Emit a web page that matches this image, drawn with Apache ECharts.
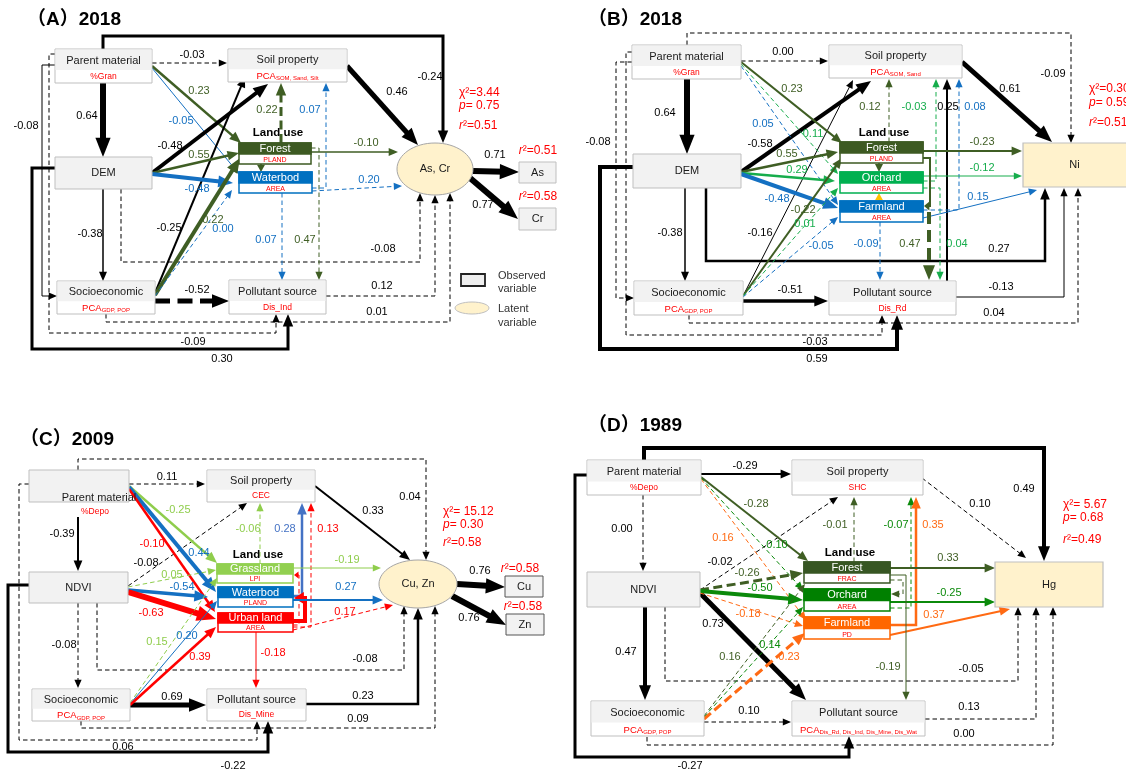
<!DOCTYPE html>
<html>
<head>
<meta charset="utf-8">
<title>Structural equation models of soil heavy metals</title>
<script src="https://cdn.jsdelivr.net/npm/echarts@6/dist/echarts.min.js"></script>
<style>
html,body{margin:0;padding:0;background:#ffffff}
#main{width:1126px;height:769px}
</style>
</head>
<body>
<div id="main"></div>
<script>
// ---------------- content ----------------
const panelTitles = ['（A）2018', '（B）2018', '（C）2009', '（D）1989'];

// variable names and their measured indicators ("main|subscript")
const namesA = ['Parent material', 'Soil property', 'DEM', 'Socioeconomic', 'Pollutant source', 'Forest', 'Waterbod', 'As, Cr', 'As', 'Cr'];
const indicatorsA = ['%Gran', 'PCA|SOM, Sand, Silt', '', 'PCA|GDP, POP', 'Dis_Ind', 'PLAND', 'AREA', '', '', ''];
const namesB = ['Parent material', 'Soil property', 'DEM', 'Socioeconomic', 'Pollutant source', 'Forest', 'Orchard', 'Farmland', 'Ni'];
const indicatorsB = ['%Gran', 'PCA|SOM, Sand', '', 'PCA|GDP, POP', 'Dis_Rd', 'PLAND', 'AREA', 'AREA', ''];
const namesC = ['Parent material', 'Soil property', 'NDVI', 'Socioeconomic', 'Pollutant source', 'Grassland', 'Waterbod', 'Urban land', 'Cu, Zn', 'Cu', 'Zn'];
const indicatorsC = ['%Depo', 'CEC', '', 'PCA|GDP, POP', 'Dis_Mine', 'LPI', 'PLAND', 'AREA', '', '', ''];
const namesD = ['Parent material', 'Soil property', 'NDVI', 'Socioeconomic', 'Pollutant source', 'Forest', 'Orchard', 'Farmland', 'Hg'];
const indicatorsD = ['%Depo', 'SHC', '', 'PCA|GDP, POP', 'PCA|Dis_Rd, Dis_Ind, Dis_Mine, Dis_Wat', 'FRAC', 'AREA', 'PD', ''];

// standardised path coefficients (null = unlabelled link)
const coefA = [-0.03, 0.64, -0.24, 0.23, -0.05, -0.08, -0.09, 0.30, 0.01, 0.12, -0.08, -0.48, -0.25, 0.55, -0.48, -0.22, 0.00, null, 0.22, 0.07, -0.10, 0.20, 0.07, 0.47, 0.46, 0.71, 0.77, -0.52, -0.38];
const coefB = [0.00, 0.64, -0.09, -0.03, -0.08, 0.04, 0.59, 0.27, -0.13, 0.25, -0.58, -0.16, 0.23, 0.11, 0.05, 0.55, 0.29, -0.48, -0.22, 0.01, -0.05, null, null, 0.12, -0.03, 0.04, 0.08, -0.23, -0.12, 0.15, null, 0.47, -0.09, 0.61, -0.51, -0.38];
const coefC = [0.11, -0.39, 0.04, 0.06, -0.22, -0.08, -0.08, -0.08, 0.69, 0.09, 0.23, 0.33, -0.25, 0.44, -0.10, 0.05, -0.54, -0.63, 0.15, 0.20, 0.39, -0.06, 0.28, 0.13, null, null, -0.19, 0.27, 0.17, -0.18, 0.76, 0.76];
const coefD = [-0.29, 0.49, -0.27, 0.00, 0.47, -0.02, -0.05, 0.73, 0.10, 0.00, 0.13, 0.10, -0.28, 0.10, 0.16, -0.26, -0.50, -0.18, 0.16, 0.14, 0.23, null, -0.01, -0.07, 0.35, 0.33, -0.25, 0.37, -0.19];

// model fit
const fitChi = [3.44, 0.30, 15.12, 5.67];
const fitP = [0.75, 0.59, 0.30, 0.68];
const fitR2 = [0.51, 0.51, 0.58, 0.49];
const indicatorR2A = [0.51, 0.58];
const indicatorR2C = [0.58, 0.58];

// ---------------- layout (diagram units = px on a 1126 x 769 canvas) ----------------
const shapesA = [
  {t: 'obs', b: [55, 49, 152, 83]},
  {t: 'obs', b: [228, 49, 347, 82]},
  {t: 'obs', b: [55, 157, 152, 189]},
  {t: 'obs', b: [57, 281, 155, 314]},
  {t: 'obs', b: [229, 280, 326, 314]},
  {t: 'lu', b: [239, 143, 311, 164], c: '#3d5a22'},
  {t: 'lu', b: [239, 172, 312, 193], c: '#0070c0'},
  {t: 'lat', e: [435, 169, 38, 26]},
  {t: 'obs', b: [519, 162, 556, 183]},
  {t: 'obs', b: [519, 208, 556, 230]}
];
const shapesB = [
  {t: 'obs', b: [632, 45, 741, 79]},
  {t: 'obs', b: [829, 45, 962, 78]},
  {t: 'obs', b: [633, 154, 741, 188]},
  {t: 'obs', b: [634, 281, 743, 315]},
  {t: 'obs', b: [829, 281, 956, 315]},
  {t: 'lu', b: [840, 142, 923, 163], c: '#3d5a22'},
  {t: 'lu', b: [840, 172, 923, 193], c: '#00b050'},
  {t: 'lu', b: [840, 201, 923, 222], c: '#0070c0'},
  {t: 'tgt', b: [1023, 143, 1140, 187]}
];
const shapesC = [
  {t: 'pmC', b: [29, 470, 129, 502], nameAt: [99, 498], subAt: [95, 512]},
  {t: 'obs', b: [207, 470, 315, 502]},
  {t: 'obs', b: [29, 572, 128, 603]},
  {t: 'obs', b: [32, 689, 130, 721]},
  {t: 'obs', b: [207, 689, 306, 721]},
  {t: 'lu', b: [217, 564, 293, 583], c: '#92d050'},
  {t: 'lu', b: [218, 587, 293, 607], c: '#0070c0'},
  {t: 'lu', b: [218, 613, 293, 632], c: '#ff0000'},
  {t: 'lat', e: [418, 584, 39, 24]},
  {t: 'obs', b: [505, 576, 543, 597], stroke: '#555555'},
  {t: 'obs', b: [506, 614, 544, 635], stroke: '#555555'}
];
const shapesD = [
  {t: 'obs', b: [587, 460, 701, 495]},
  {t: 'obs', b: [792, 460, 923, 495]},
  {t: 'obs', b: [587, 572, 700, 607]},
  {t: 'obs', b: [591, 701, 704, 736]},
  {t: 'obs', b: [792, 701, 925, 736]},
  {t: 'lu', b: [804, 562, 890, 583], c: '#375623'},
  {t: 'lu', b: [804, 589, 890, 611], c: '#008000'},
  {t: 'lu', b: [804, 617, 890, 639], c: '#ff6600'},
  {t: 'tgt', b: [995, 562, 1103, 607]}
];
const legendShapes = [
  {t: 'legBox', b: [461, 274, 485, 286]},
  {t: 'legEll', e: [472, 308, 17, 6]}
];

// link routes: p = polyline (last point = arrow tip), l = label anchor, c = colour key, w = width, d = dashed
const routesA = [
  {p: [[152, 63], [227, 63]], l: [192, 55], c: 'k', w: 1, d: 1},
  {p: [[103, 83], [103, 157]], l: [87, 116], c: 'k', w: 6},
  {p: [[103, 49], [103, 36], [443, 36], [443, 143]], l: [430, 77], c: 'k', w: 3},
  {p: [[152, 66], [241, 143]], l: [199, 91], c: 'g', w: 2.5},
  {p: [[152, 68], [239, 174]], l: [181, 121], c: 'b', w: 1},
  {p: [[55, 65], [42, 65], [42, 296], [57, 296]], l: [26, 126], c: 'k', w: 1},
  {p: [[55, 54], [49, 54], [49, 333], [276, 333], [276, 314]], l: [193, 342], c: 'k', w: 1, d: 1},
  {p: [[55, 168], [32, 168], [32, 349], [288, 349], [288, 314]], l: [222, 359], c: 'k', w: 3},
  {p: [[106, 314], [106, 322], [450, 322], [450, 193]], l: [377, 312], c: 'k', w: 1, d: 1},
  {p: [[326, 296], [435, 296], [435, 195]], l: [382, 286], c: 'k', w: 1, d: 1},
  {p: [[121, 189], [121, 262], [420, 262], [420, 193]], l: [383, 249], c: 'k', w: 1, d: 1},
  {p: [[152, 173], [268, 84]], l: [170, 146], c: 'k', w: 4},
  {p: [[155, 293], [245, 77]], l: [169, 228], c: 'k', w: 2},
  {p: [[152, 173], [239, 153]], l: [199, 155], c: 'g', w: 2.5},
  {p: [[152, 174], [233, 183]], l: [197, 189], c: 'b', w: 4},
  {p: [[155, 295], [240, 158]], l: [211, 220], c: 'g', w: 4},
  {p: [[155, 296], [232, 190]], l: [223, 229], c: 'b', w: 1, d: 1},
  {p: [[261, 164], [261, 172]], c: 'g', w: 1.5},
  {p: [[281, 143], [281, 83]], l: [267, 110], c: 'g', w: 3, d: 1},
  {p: [[312, 188], [326, 188], [326, 83]], l: [310, 110], c: 'b', w: 1, d: 1},
  {p: [[311, 152], [398, 152]], l: [366, 143], c: 'g', w: 1.5},
  {p: [[312, 191], [402, 186]], l: [369, 180], c: 'b', w: 1, d: 1},
  {p: [[282, 193], [282, 280]], l: [266, 240], c: 'b', w: 1, d: 1},
  {p: [[311, 148], [319, 148], [319, 280]], l: [305, 240], c: 'g', w: 1, d: 1},
  {p: [[347, 66], [418, 145]], l: [397, 92], c: 'k', w: 5},
  {p: [[473, 171], [519, 172]], l: [495, 155], c: 'k', w: 6},
  {p: [[470, 178], [518, 219]], l: [483, 205], c: 'k', w: 6},
  {p: [[155, 301], [229, 301]], l: [197, 290], c: 'k', w: 5, d: 1},
  {p: [[103, 189], [103, 281]], l: [90, 234], c: 'k', w: 1.5}
];
const routesB = [
  {p: [[741, 61], [828, 61]], l: [783, 52], c: 'k', w: 1, d: 1},
  {p: [[687, 79], [687, 154]], l: [665, 113], c: 'k', w: 6},
  {p: [[687, 45], [687, 33], [1071, 33], [1071, 143]], l: [1053, 74], c: 'k', w: 1, d: 1},
  {p: [[632, 52], [626, 52], [626, 335], [882, 335], [882, 315]], l: [815, 342], c: 'k', w: 1, d: 1},
  {p: [[632, 62], [616, 62], [616, 298], [634, 298]], l: [598, 142], c: 'k', w: 1, d: 1},
  {p: [[689, 315], [689, 323], [1078, 323], [1078, 188]], l: [994, 313], c: 'k', w: 1, d: 1},
  {p: [[633, 167], [600, 167], [600, 349], [897, 349], [897, 315]], l: [817, 359], c: 'k', w: 4},
  {p: [[706, 188], [706, 261], [1045, 261], [1045, 188]], l: [999, 249], c: 'k', w: 2.5},
  {p: [[956, 297], [1064, 297], [1064, 188]], l: [1001, 287], c: 'k', w: 1},
  {p: [[947, 281], [947, 79]], l: [948, 107], c: 'k', w: 2},
  {p: [[741, 172], [871, 81]], l: [760, 144], c: 'k', w: 4},
  {p: [[743, 296], [853, 80]], l: [760, 233], c: 'k', w: 1},
  {p: [[741, 62], [842, 143]], l: [792, 89], c: 'g', w: 2},
  {p: [[741, 64], [838, 174]], l: [813, 134], c: 'G', w: 1, d: 1},
  {p: [[741, 66], [838, 205]], l: [763, 124], c: 'b', w: 1, d: 1},
  {p: [[741, 172], [838, 152]], l: [787, 154], c: 'g', w: 2.5},
  {p: [[741, 173], [835, 181]], l: [797, 170], c: 'G', w: 2.5},
  {p: [[741, 174], [838, 208]], l: [777, 199], c: 'b', w: 4},
  {p: [[743, 296], [842, 158]], l: [803, 210], c: 'g', w: 2},
  {p: [[743, 296], [838, 188]], l: [805, 224], c: 'G', w: 1, d: 1},
  {p: [[743, 297], [838, 217]], l: [821, 246], c: 'b', w: 1, d: 1},
  {p: [[879, 163], [879, 172]], c: 'g', w: 1.5},
  {p: [[879, 201], [879, 193]], c: 'y', w: 1.5},
  {p: [[889, 142], [889, 79]], l: [870, 107], c: 'g', w: 1, d: 1},
  {p: [[923, 181], [936, 181], [936, 79]], l: [914, 107], c: 'G', w: 1, d: 1},
  {p: [[923, 188], [940, 188], [940, 280]], l: [957, 244], c: 'G', w: 1, d: 1},
  {p: [[923, 210], [959, 210], [959, 79]], l: [975, 107], c: 'b', w: 1, d: 1},
  {p: [[923, 151], [1022, 151]], l: [982, 142], c: 'g', w: 2},
  {p: [[923, 176], [1022, 176]], l: [982, 168], c: 'G', w: 1},
  {p: [[923, 218], [1037, 190]], l: [978, 197], c: 'b', w: 1},
  {p: [[923, 158], [930, 158], [930, 206], [924, 206]], c: 'g', w: 2},
  {p: [[929, 212], [929, 280]], l: [910, 244], c: 'g', w: 4, d: 1},
  {p: [[880, 222], [880, 280]], l: [866, 244], c: 'b', w: 1, d: 1},
  {p: [[962, 62], [1052, 142]], l: [1010, 89], c: 'k', w: 5},
  {p: [[743, 301], [828, 301]], l: [790, 290], c: 'k', w: 3.5},
  {p: [[685, 188], [685, 281]], l: [670, 233], c: 'k', w: 1.5}
];
const routesC = [
  {p: [[129, 484], [205, 484]], l: [167, 477], c: 'k', w: 1, d: 1},
  {p: [[78, 517], [78, 571]], l: [62, 534], c: 'k', w: 2},
  {p: [[78, 470], [78, 459], [426, 459], [426, 560]], l: [410, 497], c: 'k', w: 1, d: 1},
  {p: [[29, 484], [19, 484], [19, 740], [257, 740], [257, 721]], l: [123, 747], c: 'k', w: 1, d: 1},
  {p: [[29, 585], [8, 585], [8, 752], [268, 752], [268, 721]], l: [233, 766], c: 'k', w: 3},
  {p: [[78, 603], [78, 688]], l: [64, 645], c: 'k', w: 1, d: 1},
  {p: [[128, 586], [247, 503]], l: [146, 563], c: 'k', w: 1, d: 1},
  {p: [[97, 603], [97, 670], [404, 670], [404, 606]], l: [365, 659], c: 'k', w: 1, d: 1},
  {p: [[130, 705], [206, 705]], l: [172, 697], c: 'k', w: 5},
  {p: [[81, 721], [81, 728], [435, 728], [435, 606]], l: [358, 719], c: 'k', w: 1, d: 1},
  {p: [[306, 704], [418, 704], [418, 608]], l: [363, 696], c: 'k', w: 2.5},
  {p: [[315, 486], [410, 560]], l: [373, 511], c: 'k', w: 2},
  {p: [[129, 486], [217, 563]], l: [178, 510], c: 'l', w: 2.5},
  {p: [[129, 487], [216, 592]], l: [199, 553], c: 'b', w: 4},
  {p: [[129, 489], [215, 612]], l: [152, 544], c: 'r', w: 2.5},
  {p: [[128, 587], [216, 570]], l: [172, 575], c: 'l', w: 1, d: 1},
  {p: [[128, 590], [208, 597]], l: [182, 587], c: 'b', w: 3.5},
  {p: [[128, 592], [216, 619]], l: [151, 613], c: 'r', w: 6},
  {p: [[130, 703], [217, 578]], l: [157, 642], c: 'l', w: 1, d: 1},
  {p: [[130, 704], [217, 601]], l: [187, 636], c: 'b', w: 1},
  {p: [[130, 705], [216, 627]], l: [200, 657], c: 'r', w: 2.5},
  {p: [[260, 564], [260, 503]], l: [248, 529], c: 'l', w: 1, d: 1},
  {p: [[293, 596], [302, 596], [302, 503]], l: [285, 529], c: 's', w: 2.5},
  {p: [[293, 627], [311, 627], [311, 503]], l: [328, 529], c: 'r', w: 1, d: 1},
  {p: [[293, 625], [299, 625], [299, 575], [294, 575]], c: 'r', w: 1, d: 1},
  {p: [[293, 621], [305, 621], [305, 598], [294, 598]], c: 'r', w: 4},
  {p: [[293, 568], [381, 568]], l: [347, 560], c: 'l', w: 1},
  {p: [[293, 600], [383, 600]], l: [346, 587], c: 'b', w: 2},
  {p: [[293, 630], [393, 605]], l: [345, 612], c: 'r', w: 1, d: 1},
  {p: [[256, 632], [256, 688]], l: [273, 653], c: 'r', w: 1},
  {p: [[457, 584], [505, 587]], l: [480, 571], c: 'k', w: 6},
  {p: [[452, 596], [506, 625]], l: [469, 618], c: 'k', w: 6}
];
const routesD = [
  {p: [[701, 474], [791, 474]], l: [745, 466], c: 'k', w: 2},
  {p: [[644, 460], [644, 448], [1044, 448], [1044, 561]], l: [1024, 489], c: 'k', w: 4},
  {p: [[587, 475], [575, 475], [575, 757], [849, 757], [849, 736]], l: [690, 766], c: 'k', w: 3},
  {p: [[643, 495], [643, 571]], l: [622, 529], c: 'k', w: 1, d: 1},
  {p: [[645, 607], [645, 700]], l: [626, 652], c: 'k', w: 4},
  {p: [[700, 590], [838, 497]], l: [720, 562], c: 'k', w: 1, d: 1},
  {p: [[665, 607], [665, 681], [1018, 681], [1018, 607]], l: [971, 669], c: 'k', w: 1, d: 1},
  {p: [[700, 593], [806, 700]], l: [713, 624], c: 'k', w: 5},
  {p: [[704, 722], [791, 722]], l: [749, 711], c: 'k', w: 1, d: 1},
  {p: [[647, 737], [647, 745], [1053, 745], [1053, 607]], l: [964, 734], c: 'k', w: 1, d: 1},
  {p: [[925, 719], [1036, 719], [1036, 607]], l: [969, 707], c: 'k', w: 1, d: 1},
  {p: [[922, 478], [1026, 558]], l: [980, 504], c: 'k', w: 1, d: 1},
  {p: [[701, 477], [808, 561]], l: [756, 504], c: 'g', w: 2},
  {p: [[701, 478], [803, 590]], l: [777, 545], c: 'D', w: 1, d: 1},
  {p: [[701, 479], [806, 620]], l: [723, 538], c: 'o', w: 1, d: 1},
  {p: [[700, 590], [803, 573]], l: [747, 573], c: 'g', w: 3, d: 1},
  {p: [[700, 591], [803, 600]], l: [760, 588], c: 'D', w: 4},
  {p: [[700, 593], [803, 626]], l: [748, 614], c: 'o', w: 1, d: 1},
  {p: [[704, 716], [805, 584]], l: [730, 657], c: 'g', w: 1, d: 1},
  {p: [[704, 717], [803, 607]], l: [770, 645], c: 'D', w: 1, d: 1},
  {p: [[704, 719], [805, 633]], l: [789, 657], c: 'o', w: 3, d: 1},
  {p: [[890, 580], [903, 580], [903, 594], [891, 594]], c: 'g', w: 1, d: 1},
  {p: [[854, 562], [854, 497]], l: [835, 525], c: 'g', w: 1, d: 1},
  {p: [[890, 608], [911, 608], [911, 497]], l: [896, 525], c: 'D', w: 1, d: 1},
  {p: [[890, 625], [916, 625], [916, 497]], l: [933, 525], c: 'o', w: 2.5},
  {p: [[890, 568], [995, 568]], l: [948, 558], c: 'g', w: 2},
  {p: [[890, 602], [995, 602]], l: [949, 593], c: 'D', w: 2},
  {p: [[890, 635], [1010, 609]], l: [934, 615], c: 'o', w: 2},
  {p: [[890, 575], [906, 575], [906, 700]], l: [888, 667], c: 'g', w: 1}
];

// ---------------- styles ----------------
const FONT = '"Liberation Sans", Arial, Helvetica, sans-serif';
const TITLE_FONT = '"Liberation Sans", "Noto Sans CJK SC", sans-serif';
const RED = '#ff0000';
const ink = {
  k: '#000000', g: '#3f5e24', b: '#1470c2', G: '#16ad4c', l: '#8fcd4c',
  r: '#ff0000', o: '#ff6a13', D: '#0b8a0b', y: '#ffc000', s: '#4472c4'
};
const CANVAS_W = 1126;

// ---------------- assembly ----------------
const panels = [
  {names: namesA, subs: indicatorsA, shapes: shapesA, coef: coefA, routes: routesA},
  {names: namesB, subs: indicatorsB, shapes: shapesB, coef: coefB, routes: routesB},
  {names: namesC, subs: indicatorsC, shapes: shapesC, coef: coefC, routes: routesC},
  {names: namesD, subs: indicatorsD, shapes: shapesD, coef: coefD, routes: routesD}
];
const nodeList = [];
const edgeList = [];
panels.forEach(pn => {
  pn.shapes.forEach((s, i) => nodeList.push({s: s, name: pn.names[i], sub: pn.subs[i]}));
  pn.routes.forEach((r, i) => edgeList.push({r: r, v: pn.coef[i]}));
});
legendShapes.forEach(s => nodeList.push({s: s, name: '', sub: ''}));
const labelList = edgeList.filter(e => e.v !== null && e.v !== undefined && e.r.l);

const fmt = v => v.toFixed(2);
const italicRich = {i: {fontStyle: 'italic', fill: RED, fontSize: 12, fontFamily: FONT}};
const fitAnchors = [[459, 93, 106, 126, ''], [1089, 89, 103, 123, ''], [443, 512, 525, 543, ' '], [1063, 505, 518, 540, ' ']];
const textList = [];
const titleAnchors = [[27, 20], [588, 20], [20, 440], [588, 426]];
panelTitles.forEach((t, i) => textList.push({x: titleAnchors[i][0], y: titleAnchors[i][1], t: t, k: 'title'}));
[[278, 133], [884, 133], [258, 555], [850, 553]].forEach(a => textList.push({x: a[0], y: a[1], t: 'Land use', k: 'lu'}));
fitAnchors.forEach((a, i) => {
  textList.push({x: a[0], y: a[1], t: 'χ²=' + a[4] + fmt(fitChi[i]), k: 'fit'});
  textList.push({x: a[0], y: a[2], t: '{i|p}= ' + fmt(fitP[i]), k: 'fit', rich: italicRich});
  textList.push({x: a[0], y: a[3], t: '{i|r}²=' + fmt(fitR2[i]), k: 'fit', rich: italicRich});
});
[[538, 151], [538, 197]].forEach((a, i) => textList.push({x: a[0], y: a[1], t: '{i|r}²=' + fmt(indicatorR2A[i]), k: 'fitc', rich: italicRich}));
[[520, 569], [523, 607]].forEach((a, i) => textList.push({x: a[0], y: a[1], t: '{i|r}²=' + fmt(indicatorR2C[i]), k: 'fitc', rich: italicRich}));
[[498, 276, 'Observed'], [498, 289, 'variable'], [498, 309, 'Latent'], [498, 323, 'variable']].forEach(a =>
  textList.push({x: a[0], y: a[1], t: a[2], k: 'legend'}));

const textStyles = {
  title: {fill: '#000', fontSize: 19, fontWeight: 'bold', fontFamily: TITLE_FONT, align: 'left'},
  lu: {fill: '#000', fontSize: 11.5, fontWeight: 'bold', fontFamily: FONT, align: 'center'},
  fit: {fill: RED, fontSize: 12, fontFamily: FONT, align: 'left'},
  fitc: {fill: RED, fontSize: 12, fontFamily: FONT, align: 'center'},
  legend: {fill: '#333', fontSize: 11, fontFamily: FONT, align: 'left'}
};

// ---------------- renderers ----------------
function subStyle(sub, size) {
  const parts = sub.split('|');
  const base = {fill: RED, fontSize: size, fontFamily: FONT, align: 'center', verticalAlign: 'middle'};
  if (parts.length === 1) return Object.assign({text: sub}, base);
  return Object.assign({
    text: '{a|' + parts[0] + '}{s|' + parts[1] + '}',
    rich: {
      a: {fill: RED, fontSize: size + 1, fontFamily: FONT, verticalAlign: 'bottom', lineHeight: size + 4},
      s: {fill: RED, fontSize: Math.max(5.5, size - 2.5), fontFamily: FONT, verticalAlign: 'bottom', lineHeight: size - 3}
    }
  }, base);
}
function nameText(name, x, y, fill) {
  return {type: 'text', silent: true, style: {text: name, x: x, y: y, fill: fill || '#1a1a1a', fontSize: 11,
    fontFamily: FONT, align: 'center', verticalAlign: 'middle'}};
}

function renderNode(params, api) {
  const n = nodeList[params.dataIndex];
  const s = n.s;
  const kids = [];
  if (s.t === 'lat' || s.t === 'legEll') {
    const c = api.coord([s.e[0], s.e[1]]);
    const c2 = api.coord([s.e[0] + s.e[2], s.e[1] + s.e[3]]);
    kids.push({type: 'ellipse', shape: {cx: c[0], cy: c[1], rx: c2[0] - c[0], ry: c2[1] - c[1]},
      style: {fill: '#fff2cc', stroke: s.t === 'lat' ? '#a6a6a6' : '#c0c0c0', lineWidth: 1}});
    if (n.name) kids.push(nameText(n.name, c[0], c[1]));
    return {type: 'group', children: kids};
  }
  const p1 = api.coord([s.b[0], s.b[1]]);
  const p2 = api.coord([s.b[2], s.b[3]]);
  const x = p1[0], y = p1[1], w = p2[0] - p1[0], h = p2[1] - p1[1];
  if (s.t === 'legBox') {
    kids.push({type: 'rect', shape: {x: x, y: y, width: w, height: h}, style: {fill: '#eeeeee', stroke: '#222', lineWidth: 1.8}});
  } else if (s.t === 'tgt') {
    kids.push({type: 'rect', shape: {x: x, y: y, width: w, height: h}, style: {fill: '#fff2cc', stroke: '#bfbfbf', lineWidth: 1.2}});
    // centre the name on the part of the box that lies inside the canvas
    const right = api.coord([Math.min(s.b[2], CANVAS_W), s.b[3]])[0];
    kids.push(nameText(n.name, (x + right) / 2, y + h / 2));
  } else if (s.t === 'pmC') {
    kids.push({type: 'rect', shape: {x: x, y: y, width: w, height: h}, style: {fill: '#f2f2f2', stroke: '#bfbfbf', lineWidth: 1}});
    const na = api.coord(s.nameAt), sa = api.coord(s.subAt);
    kids.push(nameText(n.name, na[0], na[1]));
    kids.push({type: 'text', silent: true, style: Object.assign(subStyle(n.sub, 8.5), {x: sa[0], y: sa[1]})});
  } else if (s.t === 'lu') {
    const hh = h * 0.56;
    kids.push({type: 'rect', shape: {x: x, y: y, width: w, height: h}, style: {fill: '#ffffff', stroke: s.c, lineWidth: 1.5}});
    kids.push({type: 'rect', shape: {x: x - 0.75, y: y - 0.75, width: w + 1.5, height: hh + 0.75}, style: {fill: s.c}});
    kids.push(nameText(n.name, x + w / 2, y + hh / 2, '#ffffff'));
    kids.push({type: 'text', silent: true, style: Object.assign(subStyle(n.sub, 7), {x: x + w / 2, y: y + hh + (h - hh) / 2 + 0.5})});
  } else {
    const hasSub = !!n.sub;
    kids.push({type: 'rect', shape: {x: x, y: y, width: w, height: h},
      style: {fill: hasSub ? '#ffffff' : '#f2f2f2', stroke: s.stroke || '#bfbfbf', lineWidth: 1}});
    if (hasSub) {
      const hh = h * 0.6;
      kids.push({type: 'rect', shape: {x: x + 0.5, y: y + 0.5, width: w - 1, height: hh}, style: {fill: '#f2f2f2'}});
      kids.push(nameText(n.name, x + w / 2, y + hh / 2 + 1.5));
      kids.push({type: 'text', silent: true, style: Object.assign(subStyle(n.sub, 8.5), {x: x + w / 2, y: y + hh + (h - hh) / 2})});
    } else {
      kids.push(nameText(n.name, x + w / 2, y + h / 2));
    }
  }
  return {type: 'group', children: kids};
}

function dashFor(w) {
  return w <= 1.5 ? [4.5, 3] : [w * 3, w * 1.5];
}

function renderEdge(params, api) {
  const r = edgeList[params.dataIndex].r;
  const col = ink[r.c];
  const w = r.w;
  const pts = r.p.map(q => api.coord(q));
  const n = pts.length;
  const tip = pts[n - 1], prev = pts[n - 2];
  let dx = tip[0] - prev[0], dy = tip[1] - prev[1];
  const L = Math.hypot(dx, dy) || 1;
  dx /= L; dy /= L;
  const al = Math.min(6 + w * 2.2, L * 0.9);
  const aw = 2.8 + w * 0.8;
  const bx = tip[0] - dx * al, by = tip[1] - dy * al;
  const line = pts.slice(0, n - 1).concat([[tip[0] - dx * al * 0.75, tip[1] - dy * al * 0.75]]);
  return {type: 'group', children: [
    {type: 'polyline', silent: true, shape: {points: line},
      style: {stroke: col, lineWidth: w, fill: 'none', lineDash: r.d ? dashFor(w) : null, lineJoin: 'miter', lineCap: 'butt'}},
    {type: 'polygon', silent: true, shape: {points: [tip, [bx - dy * aw, by + dx * aw], [bx + dy * aw, by - dx * aw]]},
      style: {fill: col}}
  ]};
}

function renderLabel(params, api) {
  const e = labelList[params.dataIndex];
  const p = api.coord(e.r.l);
  return {type: 'text', silent: true, style: {text: fmt(e.v), x: p[0], y: p[1], fill: ink[e.r.c],
    fontSize: 11, fontFamily: FONT, align: 'center', verticalAlign: 'middle'}};
}

function renderText(params, api) {
  const t = textList[params.dataIndex];
  const p = api.coord([t.x, t.y]);
  const style = Object.assign({text: t.t, x: p[0], y: p[1], verticalAlign: 'middle'}, textStyles[t.k]);
  if (t.rich) style.rich = t.rich;
  return {type: 'text', silent: true, style: style};
}

// ---------------- chart ----------------
const chart = echarts.init(document.getElementById('main'), null, {renderer: 'canvas'});
const dummy = list => list.map(() => [0, 0]);
chart.setOption({
  animation: false,
  backgroundColor: '#ffffff',
  grid: {left: 0, right: 0, top: 0, bottom: 0},
  xAxis: {type: 'value', min: 0, max: CANVAS_W, show: false},
  yAxis: {type: 'value', min: 0, max: 769, inverse: true, show: false},
  series: [
    {type: 'custom', name: 'paths', renderItem: renderEdge, data: dummy(edgeList), z: 1, silent: true},
    {type: 'custom', name: 'variables', renderItem: renderNode, data: dummy(nodeList), z: 2, silent: true},
    {type: 'custom', name: 'coefficients', renderItem: renderLabel, data: dummy(labelList), z: 3, silent: true},
    {type: 'custom', name: 'annotations', renderItem: renderText, data: dummy(textList), z: 3, silent: true}
  ]
});
</script>
</body>
</html>
